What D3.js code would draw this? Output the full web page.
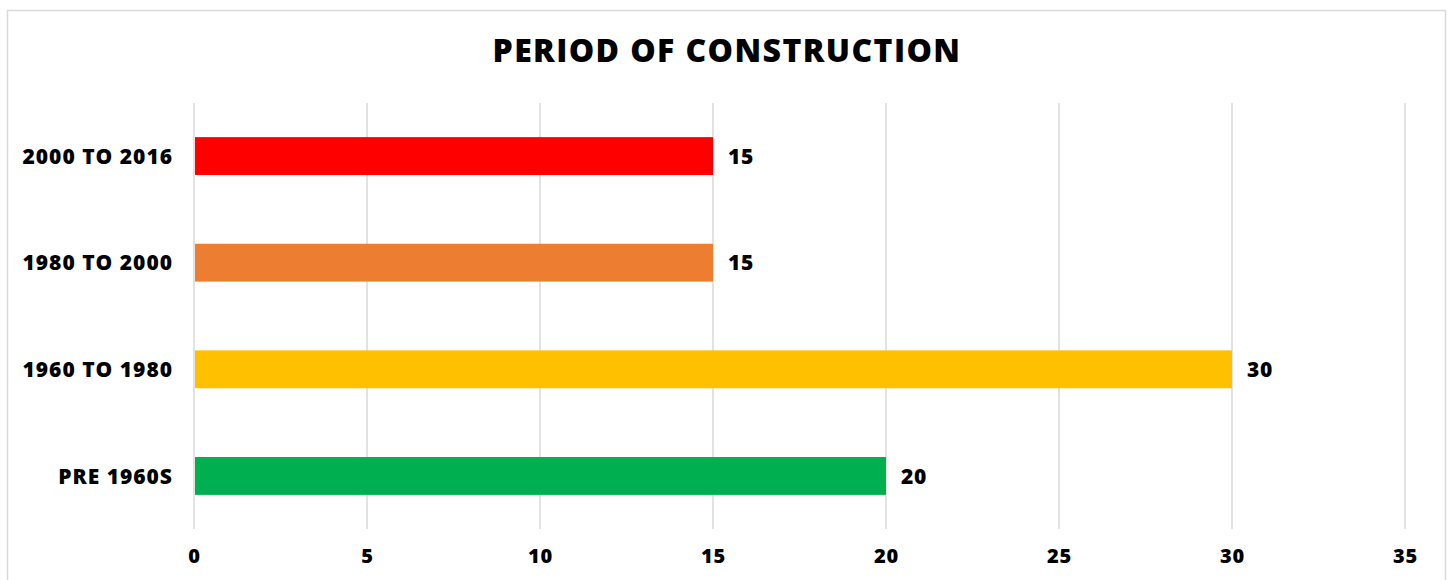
<!DOCTYPE html>
<html>
<head>
<meta charset="utf-8">
<script src="https://cdn.jsdelivr.net/npm/d3@7"></script>
<style>
  html, body { margin: 0; padding: 0; background: #fff; }
  svg text { font-family: "Open Sans", sans-serif; font-weight: 800; fill: #000; }
</style>
</head>
<body>
<svg id="chart" width="1450" height="580"></svg>
<script>
const title = "PERIOD OF CONSTRUCTION";
const categories = ["2000 TO 2016", "1980 TO 2000", "1960 TO 1980", "PRE 1960S"];
const values = [15, 15, 30, 20];
const colors = ["#FF0000", "#ED7D31", "#FFC000", "#00B050"];
const xTicks = [0, 5, 10, 15, 20, 25, 30, 35];

const svg = d3.select("#chart");
const W = 1450, H = 580;

// outer chart border
svg.append("rect")
  .attr("x", 7.5).attr("y", 10.5)
  .attr("width", 1438).attr("height", 600)
  .attr("fill", "#fff")
  .attr("stroke", "#d9d9d9").attr("stroke-width", 1.5);

const margin = { left: 194, right: 45, top: 103, bottom: 51 };
const plotW = W - margin.left - margin.right;
const plotH = H - margin.top - margin.bottom;

const x = d3.scaleLinear().domain([0, 35]).range([margin.left, margin.left + plotW]);
const y = d3.scaleBand().domain(categories).range([margin.top, margin.top + plotH]).paddingInner(0.645).paddingOuter(0.32);

// title
svg.append("text")
  .attr("x", 727).attr("y", 62)
  .attr("text-anchor", "middle")
  .style("font-size", "32px")
  .style("letter-spacing", "1.4px")
  .text(title);

// gridlines
svg.append("g").selectAll("line")
  .data(xTicks)
  .join("line")
  .attr("x1", d => x(d)).attr("x2", d => x(d))
  .attr("y1", margin.top).attr("y2", margin.top + plotH)
  .attr("stroke", "#d9d9d9").attr("stroke-width", 1.5);

// x axis tick labels
const xAxis = d3.axisBottom(x).tickValues(xTicks).tickSize(0).tickPadding(0).tickFormat(d3.format("d"));
const gx = svg.append("g")
  .attr("transform", `translate(0, ${margin.top + plotH})`)
  .call(xAxis);
gx.select(".domain").remove();
gx.selectAll("text")
  .attr("dy", null).attr("y", 34)
  .style("font-size", "20px")
  .style("font-family", "'Open Sans', sans-serif")
  .style("font-weight", 800)
  .style("letter-spacing", "0.8px")
  .attr("fill", "#000");

// bars
svg.append("g").selectAll("rect")
  .data(categories)
  .join("rect")
  .attr("x", x(0) + 1)
  .attr("y", d => y(d))
  .attr("width", (d, i) => x(values[i]) - x(0) - 1)
  .attr("height", y.bandwidth())
  .attr("fill", (d, i) => colors[i]);

// y axis category labels
const yAxis = d3.axisLeft(y).tickSize(0).tickPadding(21);
const gy = svg.append("g")
  .attr("transform", `translate(${margin.left}, 0)`)
  .call(yAxis);
gy.select(".domain").remove();
gy.selectAll("text")
  .attr("dy", "0.36em")
  .style("font-size", "21px")
  .style("font-family", "'Open Sans', sans-serif")
  .style("font-weight", 800)
  .style("letter-spacing", "1px")
  .attr("fill", "#000");

// value labels
svg.append("g").selectAll("text")
  .data(categories)
  .join("text")
  .attr("x", (d, i) => x(values[i]) + 15)
  .attr("y", d => y(d) + y.bandwidth() / 2)
  .attr("dy", "0.36em")
  .style("font-size", "21px")
  .style("letter-spacing", "0.8px")
  .text((d, i) => values[i]);
</script>
</body>
</html>
